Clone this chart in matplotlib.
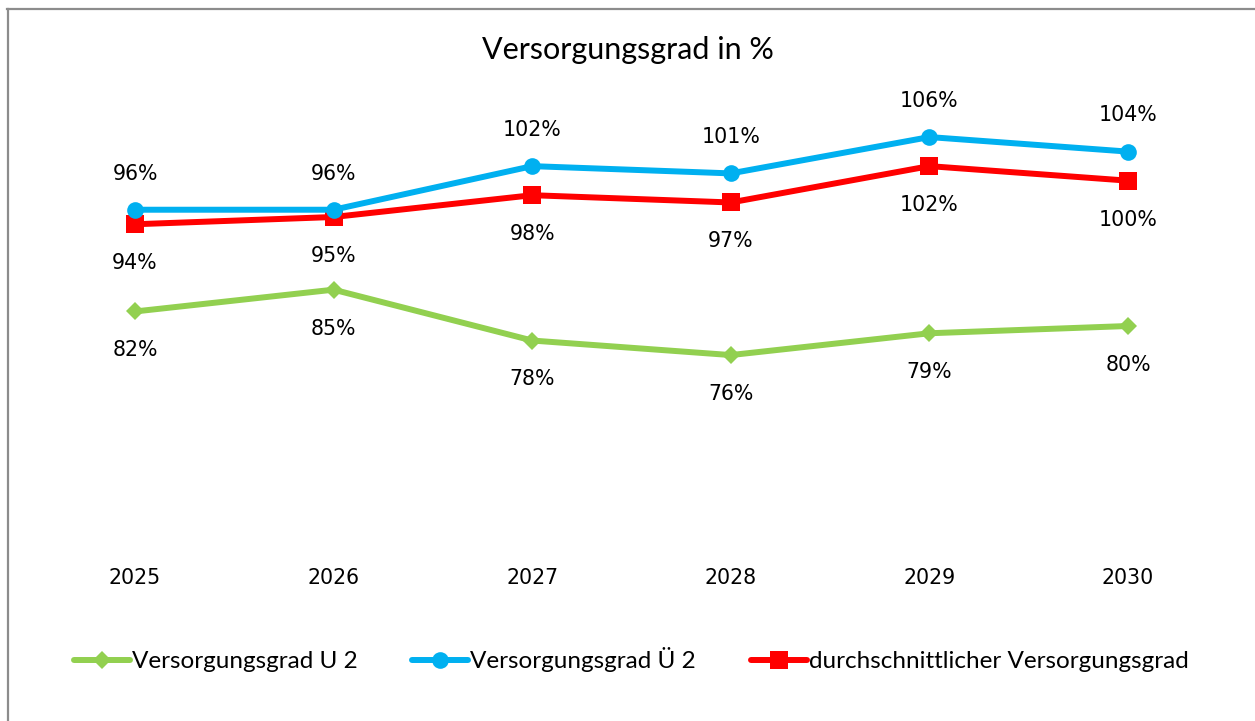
import matplotlib
matplotlib.use("Agg")
import matplotlib.pyplot as plt
from matplotlib.lines import Line2D

years = ["2025", "2026", "2027", "2028", "2029", "2030"]
grad_u2 = [82, 85, 78, 76, 79, 80]
grad_ue2 = [96, 96, 102, 101, 106, 104]
grad_avg = [94, 95, 98, 97, 102, 100]

series_names = ["Versorgungsgrad U 2", "Versorgungsgrad Ü 2",
                "durchschnittlicher Versorgungsgrad"]

GREEN = "#92D050"
BLUE = "#00B0F0"
RED = "#FF0000"

W, H = 1255, 721
fig = plt.figure(figsize=(W / 100, H / 100), dpi=100)
fig.patch.set_facecolor("white")

# chart frame (top and left edges)
fig.add_artist(Line2D([7.5 / W, 7.5 / W], [0, 1 - 9 / H], transform=fig.transFigure,
                      color="#8c8c8c", lw=1.6))
fig.add_artist(Line2D([7 / W, 1], [1 - 9 / H, 1 - 9 / H], transform=fig.transFigure,
                      color="#8c8c8c", lw=1.6))

ax = fig.add_axes([35.7 / W, (H - 544) / H, (1227.3 - 35.7) / W, (544 - 108) / H])
x = list(range(len(years)))

styles = [
    (grad_u2, GREEN, "D", 9.5, -28),
    (grad_ue2, BLUE, "o", 12, 26),
    (grad_avg, RED, "s", 13.5, -28),
]
handles = []
for (vals, col, mk, ms, off), name in zip(styles, series_names):
    h, = ax.plot(x, vals, color=col, lw=4.3, marker=mk, ms=ms,
                 markeredgewidth=0, solid_capstyle="round", label=name, zorder=3)
    handles.append(h)
    for xi, v in zip(x, vals):
        ax.annotate(f"{v}%", (xi, v), xytext=(0, off), textcoords="offset points",
                    ha="center", va="center", fontsize=14.8,
                    family="DejaVu Sans", color="black")

# draw the blue series on top of the red one
handles[1].set_zorder(4)

ax.set_xlim(-0.5, 5.5)
ax.set_ylim(50, 110)
ax.set_xticks(x)
ax.set_xticklabels(years, fontsize=14.8, family="DejaVu Sans")
ax.tick_params(axis="x", length=0, pad=17)
ax.set_yticks([])
for s in ax.spines.values():
    s.set_visible(False)

fig.text(0.5, 1 - 50 / H, "Versorgungsgrad in %", ha="center", va="center",
         fontsize=22, family="Lato", color="black")

leg = fig.legend(handles=handles, labels=series_names, loc="center",
                 bbox_to_anchor=(631 / W, 1 - 660 / H), ncol=3, frameon=False,
                 prop={"family": "Lato", "size": 17.5}, handlelength=2.3,
                 handletextpad=0.08, columnspacing=2.26)

fig.savefig("out.png", dpi=100, facecolor="white")
